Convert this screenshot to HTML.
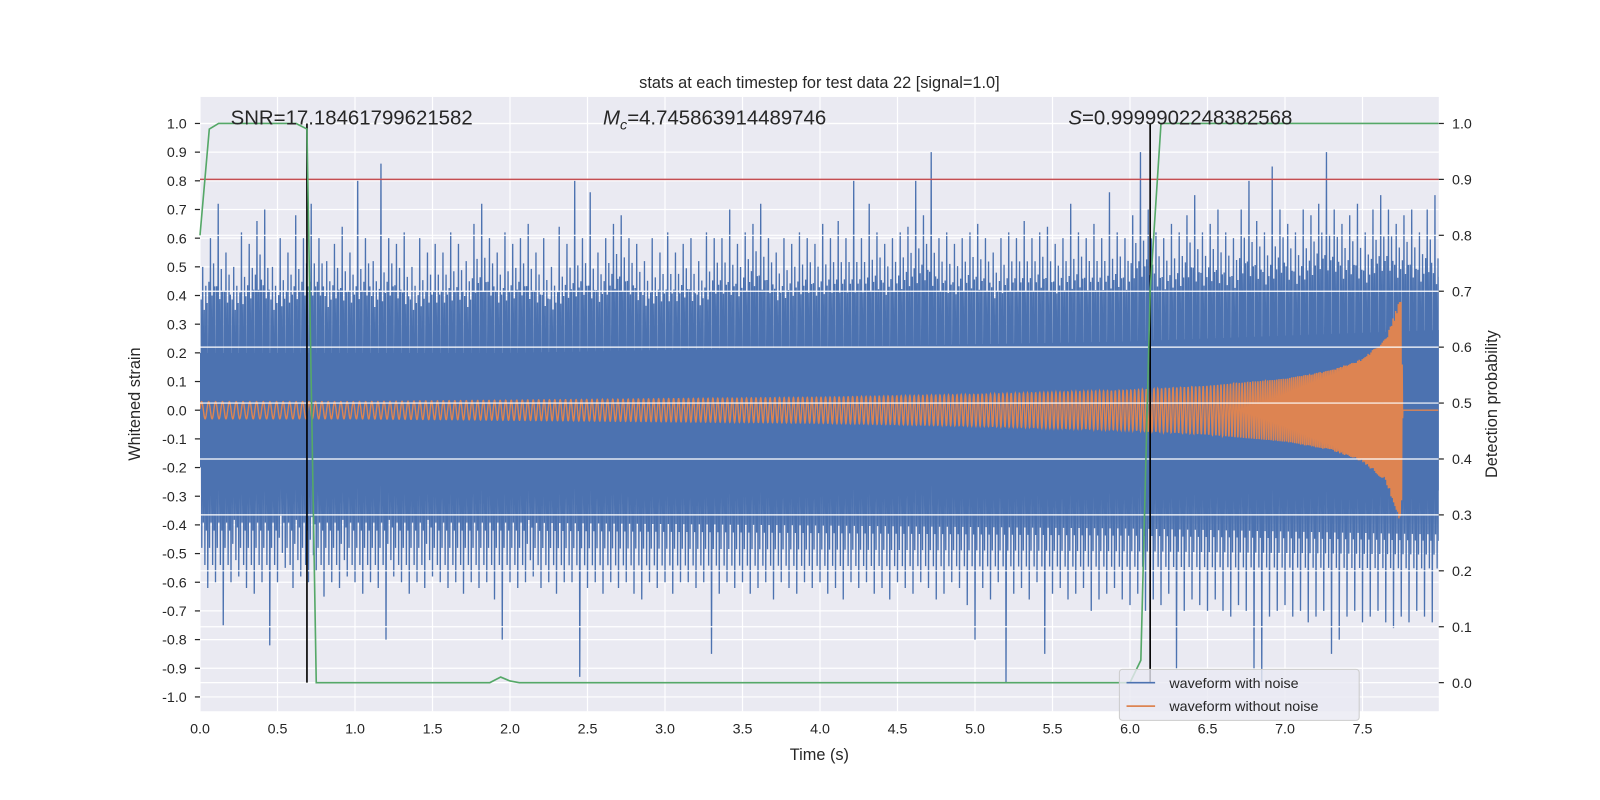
<!DOCTYPE html>
<html><head><meta charset="utf-8"><style>
html,body{margin:0;padding:0;background:#fff;overflow:hidden;width:1600px;height:800px;}
svg{display:block;font-family:"Liberation Sans","DejaVu Sans",sans-serif;}
</style></head><body>
<svg id="chart" width="1600" height="800" viewBox="0 0 1568 784" style="position:absolute;left:0;top:0"></svg>
<script>
// ---- data ----
const binWidth = 0.05;
const noiseMax = [0.5,0.6,0.72,0.55,0.5,0.62,0.58,0.66,0.7,0.5,0.6,0.55,0.68,0.6,0.72,0.6,0.52,0.58,0.64,0.55,0.8,0.6,0.52,0.86,0.6,0.58,0.62,0.5,0.6,0.55,0.58,0.55,0.62,0.58,0.52,0.65,0.72,0.6,0.55,0.62,0.58,0.6,0.65,0.55,0.6,0.5,0.64,0.58,0.8,0.6,0.76,0.55,0.6,0.65,0.68,0.6,0.58,0.52,0.6,0.55,0.62,0.55,0.58,0.6,0.52,0.62,0.6,0.6,0.7,0.58,0.62,0.65,0.72,0.6,0.55,0.6,0.58,0.62,0.6,0.58,0.65,0.6,0.66,0.6,0.8,0.6,0.72,0.62,0.58,0.6,0.62,0.64,0.8,0.68,0.9,0.6,0.62,0.58,0.6,0.62,0.65,0.6,0.55,0.6,0.62,0.6,0.66,0.6,0.62,0.64,0.58,0.6,0.72,0.62,0.6,0.65,0.6,0.76,0.62,0.6,0.68,0.9,0.7,0.62,0.6,0.65,0.62,0.68,0.75,0.62,0.65,0.7,0.62,0.6,0.7,0.8,0.66,0.62,0.85,0.7,0.65,0.62,0.7,0.68,0.72,0.9,0.7,0.65,0.68,0.72,0.62,0.7,0.75,0.7,0.65,0.68,0.7,0.62,0.7,0.75];
const noiseMin = [-0.62,-0.6,-0.75,-0.6,-0.58,-0.62,-0.64,-0.6,-0.82,-0.6,-0.55,-0.62,-0.58,-0.6,-0.56,-0.65,-0.6,-0.62,-0.58,-0.6,-0.64,-0.6,-0.62,-0.8,-0.58,-0.6,-0.64,-0.6,-0.62,-0.58,-0.6,-0.62,-0.6,-0.64,-0.6,-0.62,-0.6,-0.66,-0.8,-0.6,-0.62,-0.6,-0.58,-0.62,-0.6,-0.64,-0.6,-0.6,-0.93,-0.62,-0.6,-0.64,-0.6,-0.62,-0.6,-0.64,-0.66,-0.6,-0.62,-0.6,-0.64,-0.6,-0.6,-0.62,-0.6,-0.85,-0.64,-0.6,-0.62,-0.6,-0.64,-0.62,-0.6,-0.66,-0.6,-0.62,-0.64,-0.6,-0.62,-0.6,-0.64,-0.62,-0.66,-0.6,-0.62,-0.6,-0.64,-0.62,-0.66,-0.6,-0.62,-0.64,-0.6,-0.62,-0.66,-0.64,-0.6,-0.62,-0.68,-0.8,-0.62,-0.66,-0.6,-0.95,-0.64,-0.62,-0.66,-0.6,-0.85,-0.64,-0.62,-0.66,-0.64,-0.62,-0.7,-0.66,-0.64,-0.62,-0.66,-0.68,-0.64,-0.7,-0.66,-0.68,-0.64,-0.9,-0.7,-0.66,-0.68,-0.7,-0.66,-0.7,-0.72,-0.68,-0.7,-0.9,-0.95,-0.72,-0.7,-0.68,-0.72,-0.7,-0.74,-0.72,-0.7,-0.85,-0.8,-0.72,-0.7,-0.74,-0.72,-0.7,-0.74,-0.76,-0.72,-0.74,-0.7,-0.72,-0.74,-0.78];
const coreLevel = [0.2,0.2,0.2,0.21,0.22,0.23,0.24,0.26,0.28];   // per second
const chirpTime = [0,1,2,3,4,5,6,6.5,7,7.3,7.5,7.65,7.75,7.76,8.0];
const chirpAmp  = [0.03,0.03,0.035,0.04,0.045,0.055,0.07,0.085,0.11,0.14,0.18,0.25,0.4,0,0];
const probTime = [0,0.06,0.12,0.19,0.25,0.31,0.37,0.44,0.5,0.56,0.62,0.69,0.75,0.81,1.0,1.5,1.87,1.94,2.0,2.06,3.0,4.0,5.0,5.5,6.0,6.07,6.13,6.2,6.5,7.0,7.5,7.99];
const probVal  = [0.8,0.99,1.0,1.0,1.0,1.0,1.0,1.0,1.0,1.0,1.0,0.99,0.0,0.0,0.0,0.0,0.0,0.01,0.003,0.0,0.0,0.0,0.0,0.0,0.0,0.04,0.7,1.0,1.0,1.0,1.0,1.0];
const thresholdProb = 0.9;
const markerTimes = [0.69,6.13];
const xTicks = [0,0.5,1,1.5,2,2.5,3,3.5,4,4.5,5,5.5,6,6.5,7,7.5];
const yLeftTicks = [-1,-0.9,-0.8,-0.7,-0.6,-0.5,-0.4,-0.3,-0.2,-0.1,0,0.1,0.2,0.3,0.4,0.5,0.6,0.7,0.8,0.9,1.0];
const yRightTicks = [0,0.1,0.2,0.3,0.4,0.5,0.6,0.7,0.8,0.9,1.0];

// ---- axes ----
const L=196,R=1410,T=95,B=697;
const X=t=>L+t*151.9;
const YL=v=>402-v*281;
const YR=p=>669-p*548;
const svg=document.getElementById('chart');
const NS='http://www.w3.org/2000/svg';
function mk(tag,attrs,parent){const e=document.createElementNS(NS,tag);for(const k in attrs)e.setAttribute(k,attrs[k]);(parent||svg).appendChild(e);return e;}

let bg=mk('rect',{x:L,y:T,width:R-L,height:B-T,fill:'#eaeaf2'});


const grid=mk('g',{stroke:'#fff','stroke-width':1.2});

xTicks.forEach(t=>mk('line',{x1:X(t),x2:X(t),y1:T,y2:B},grid));
yLeftTicks.forEach(v=>mk('line',{x1:L,x2:R,y1:YL(v),y2:YL(v)},grid));

const clip=mk('clipPath',{id:'pc'});mk('rect',{x:L,y:T,width:R-L,height:B-T},clip);

// noise series
const ng=mk('g',{'clip-path':'url(#pc)'});

function core(s){const i=Math.min(coreLevel.length-1,Math.floor(s));const f=Math.min(1,s-i);return coreLevel[i]+(coreLevel[Math.min(coreLevel.length-1,i+1)]-coreLevel[i])*f;}
let up=[],dn=[];
for(let s=0;s<=8;s+=0.05){up.push(X(s)+','+YL(core(s)));dn.unshift(X(s)+','+YL(-core(s)));}
mk('polygon',{points:up.concat(dn).join(' '),fill:'#4c72b0'},ng);
const fr=[0.15,0.35,0.55,0.75,0.92];
const sc=[0.62,1.0,0.5,0.78,0.58];
const sc2=[0.7,0.48,0.85,0.55,1.0];
let zz=[];
noiseMax.forEach((m,i)=>{
  const t=i*binWidth;const mn=noiseMin[i];
  const c=core(t);
  const nm=noiseMax[(i+1)%noiseMax.length], pm=noiseMax[(i+noiseMax.length-1)%noiseMax.length];
  fr.forEach((f,k)=>{
    const a=(k===1?m:c+(Math.min(m,(nm+pm)/2)-c)*sc[k]);
    const b=(k===4?mn:-c+(Math.max(mn,-0.6)+c)*sc2[k]);
    zz.push(X(t+f*binWidth)+','+YL(a));
    zz.push(X(t+(f+0.08)*binWidth)+','+YL(b));
  });
});
mk('polyline',{points:zz.join(' '),fill:'none',stroke:'#4c72b0','stroke-width':1.3},ng);

// chirp series
function amp(t){for(let i=0;i<chirpTime.length-1;i++){if(t<=chirpTime[i+1]){const f=(t-chirpTime[i])/(chirpTime[i+1]-chirpTime[i]);return chirpAmp[i]+(chirpAmp[i+1]-chirpAmp[i])*f;}}return 0;}
let cp=[];let ph=0;
for(let t=0;t<=7.99;t+=0.001){ph+=0.001*2*Math.PI*(22+t*3+(t>6.5?(t-6.5)*60:0));cp.push(X(t).toFixed(2)+','+YL(amp(t)*Math.sin(ph)).toFixed(1));}
const ch=mk('polyline',{points:cp.join(' '),fill:'none',stroke:'#dd8452','stroke-width':1.4,'clip-path':'url(#pc)'});


// right axis grid (drawn on top)
const g2=mk('g',{stroke:'#fff','stroke-width':1.2});

yRightTicks.forEach(p=>mk('line',{x1:L,x2:R,y1:YR(p),y2:YR(p)},g2));

const th=mk('line',{x1:L,x2:R,y1:YR(thresholdProb),y2:YR(thresholdProb),stroke:'#c44e52','stroke-width':1.5});

markerTimes.forEach((t,i)=>{const m=mk('line',{x1:X(t),x2:X(t),y1:YR(1),y2:YR(0),stroke:'#000','stroke-width':1.6});
});
const pr=mk('polyline',{points:probTime.map((t,i)=>X(t)+','+YR(probVal[i])).join(' '),fill:'none',stroke:'#55a868','stroke-width':1.6});


// ticks
const tl=mk('g',{'font-size':14,fill:'#262626'});

const tm=mk('g',{stroke:'#262626','stroke-width':1.2});

yLeftTicks.forEach(v=>mk('line',{x1:L-5,x2:L,y1:YL(v),y2:YL(v)},tm));
yRightTicks.forEach(p=>mk('line',{x1:R,x2:R+5,y1:YR(p),y2:YR(p)},tm));
xTicks.forEach(t=>{const e=mk('text',{x:X(t),y:B+22,'text-anchor':'middle'},tl);e.textContent=t.toFixed(1);});
yLeftTicks.forEach(v=>{const e=mk('text',{x:L-13,y:YL(v)+5,'text-anchor':'end'},tl);e.textContent=(Math.abs(v)<1e-9?0:v).toFixed(1);});
yRightTicks.forEach(p=>{const e=mk('text',{x:R+13,y:YR(p)+5},tl);e.textContent=p.toFixed(1);});
</script>
<svg style="position:absolute;left:0;top:0" width="1600" height="800" viewBox="0 0 1568 784">
<g font-family="Liberation Sans, DejaVu Sans, sans-serif" fill="#262626">
<text x="803" y="86" font-size="16" text-anchor="middle">stats at each timestep for test data 22 [signal=1.0]</text>
<text x="226" y="122" font-size="20">SNR=17.18461799621582</text>
<text x="591" y="122" font-size="20"><tspan font-style="italic">M</tspan><tspan font-style="italic" font-size="14" dy="5">c</tspan><tspan dy="-5">=4.745863914489746</tspan></text>
<text x="1047" y="122" font-size="20"><tspan font-style="italic">S</tspan>=0.9999902248382568</text>
<text x="803" y="745" font-size="16" text-anchor="middle">Time (s)</text>
<text transform="translate(137,396) rotate(-90)" font-size="16" text-anchor="middle">Whitened strain</text>
<text transform="translate(1467,396) rotate(-90)" font-size="16" text-anchor="middle">Detection probability</text>
</g>
<g font-family="Liberation Sans, DejaVu Sans, sans-serif" font-size="14" fill="#262626">
<rect x="1097" y="656" width="235" height="50" rx="3" fill="#eaeaf2" fill-opacity="0.8" stroke="#ccc"/>
<line x1="1104" x2="1132" y1="669" y2="669" stroke="#4c72b0" stroke-width="1.6"/>
<text x="1146" y="674">waveform with noise</text>
<line x1="1104" x2="1132" y1="692" y2="692" stroke="#dd8452" stroke-width="1.6"/>
<text x="1146" y="697">waveform without noise</text>
</g>
</svg>
</body></html>
